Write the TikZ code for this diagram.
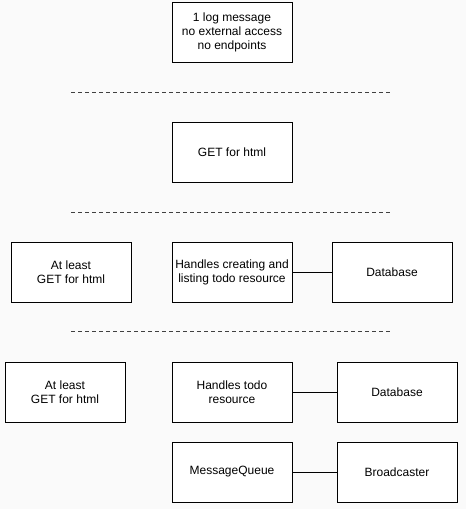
\documentclass[tikz,border=0pt]{standalone}
\usepackage{fontspec}
\setmainfont{Liberation Sans}
\usepackage{tikz}
\usetikzlibrary{positioning}

\begin{document}
\begin{tikzpicture}[
    x=1pt, y=1pt,
    box/.style={draw, fill=white, line width=0.9pt, minimum width=120pt, minimum height=60pt, inner sep=0pt, outer sep=0pt, align=center, font=\fontsize{12}{14}\selectfont},
    tier/.style={draw=black!75, line width=0.6pt, dash pattern=on 4pt off 3pt},
    link/.style={draw, line width=0.9pt}
]
\fill[black!2] (0,0) rectangle (466,-509);
\useasboundingbox (0,0) rectangle (466,-509);

% stage 1
\node[box] (logbox) at (232,-32) {1 log message\\no external access\\no endpoints};

% stage 2
\node[box, below=60pt of logbox] (getbox) {GET for html};

% stage 3
\node[box, below=60pt of getbox] (listbox) {Handles creating and\\listing todo resource};
\node[box, left=41pt of listbox] (htmlbox) {At least\\GET for html};
\node[box, right=40pt of listbox] (dbbox) {Database};
\draw[link] (listbox) -- (dbbox);

% stage 4
\node[box, below=60pt of listbox] (todobox) {Handles todo\\resource};
\node[box, left=47pt of todobox] (htmlboxb) {At least\\GET for html};
\node[box, right=45pt of todobox] (dbboxb) {Database};
\node[box, below=20pt of todobox] (queuebox) {MessageQueue};
\node[box, right=45pt of queuebox] (castbox) {Broadcaster};
\draw[link] (todobox) -- (dbboxb);
\draw[link] (queuebox) -- (castbox);

% separators
\coordinate (sepAl) at (71,-92);  \coordinate (sepAr) at (392,-92);
\coordinate (sepBl) at (71,-212); \coordinate (sepBr) at (392,-212);
\coordinate (sepCl) at (71,-331); \coordinate (sepCr) at (392,-331);
\draw[tier] (sepAl) -- (sepAr);
\draw[tier] (sepBl) -- (sepBr);
\draw[tier] (sepCl) -- (sepCr);
\end{tikzpicture}
\end{document}
